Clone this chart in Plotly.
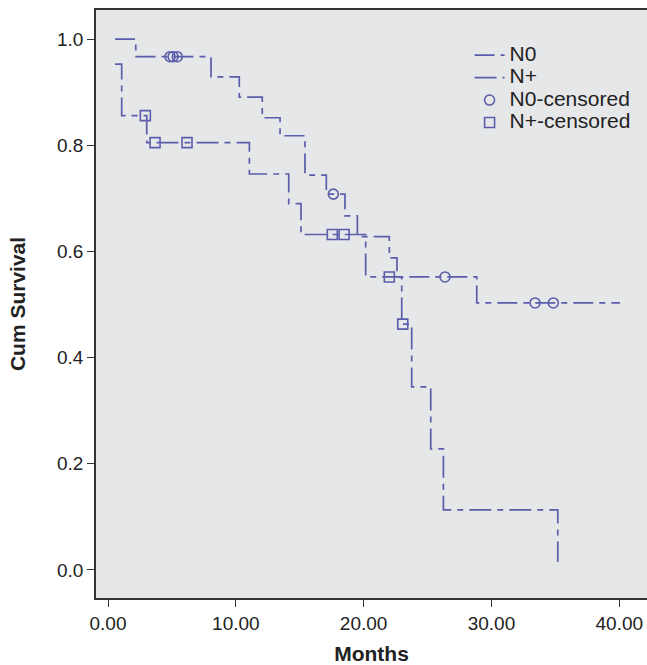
import plotly.graph_objects as go

# --- data ---
n0_time = [0.55, 2.17, 8.06, 10.27, 12.07, 13.46, 15.41, 17.08, 18.54, 19.51, 22.01, 22.61, 28.85, 40.06]
n0_surv = [1.000, 0.967, 0.929, 0.891, 0.852, 0.818, 0.744, 0.708, 0.667, 0.628, 0.588, 0.552, 0.503, 0.503]

np_time = [0.55, 1.07, 3.03, 11.06, 14.14, 15.10, 20.16, 22.98, 23.76, 25.25, 26.24, 35.19]
np_surv = [0.953, 0.856, 0.805, 0.746, 0.690, 0.632, 0.552, 0.463, 0.345, 0.228, 0.113, 0.015]

n0_cens_time = [4.85, 5.09, 5.42, 17.63, 26.37, 33.41, 34.84]
n0_cens_surv = [0.967, 0.967, 0.967, 0.708, 0.552, 0.503, 0.503]

np_cens_time = [2.92, 3.68, 6.18, 17.55, 18.47, 22.01, 23.06]
np_cens_surv = [0.856, 0.805, 0.805, 0.632, 0.632, 0.552, 0.463]

series_names = ["N0", "N+", "N0-censored", "N+-censored"]

x_ticks = [0, 10, 20, 30, 40]
y_ticks = [0.0, 0.2, 0.4, 0.6, 0.8, 1.0]

COLOR = "#5a5eab"
FONT = "Liberation Sans, Arial, Helvetica, sans-serif"


def legend_label(name):
    return '<span style="font-size:21px">' + name + '</span>'


fig = go.Figure()
fig.add_trace(go.Scatter(x=n0_time, y=n0_surv, mode="lines", name=legend_label(series_names[0]),
                         line=dict(color=COLOR, width=1.7, shape="hv", dash="20px,6px,6px,6px")))
fig.add_trace(go.Scatter(x=np_time, y=np_surv, mode="lines", name=legend_label(series_names[1]),
                         line=dict(color=COLOR, width=1.7, shape="hv", dash="22px,6px,6px,6px")))
fig.add_trace(go.Scatter(x=n0_cens_time, y=n0_cens_surv, mode="markers", name=legend_label(series_names[2]),
                         marker=dict(symbol="circle-open", size=10, color=COLOR, line=dict(width=1.6, color=COLOR))))
fig.add_trace(go.Scatter(x=np_cens_time, y=np_cens_surv, mode="markers", name=legend_label(series_names[3]),
                         marker=dict(symbol="square-open", size=10, color=COLOR, line=dict(width=1.6, color=COLOR))))

fig.update_layout(
    width=647, height=665,
    margin=dict(l=96, r=0, t=10, b=67),
    paper_bgcolor="white",
    plot_bgcolor="#e6e7e9",
    font=dict(family=FONT, size=19, color="#222"),
    showlegend=True,
    legend=dict(x=0.678, y=0.951, xanchor="left", yanchor="top",
                bgcolor="rgba(0,0,0,0)", font=dict(size=15, color="#222"),
                itemwidth=30),
    xaxis=dict(range=[-0.94, 42.17], tickvals=x_ticks, tickformat=".2f",
               showgrid=False, zeroline=False, showline=True, linecolor="#333", linewidth=1.5,
               mirror=True, ticks="outside", ticklen=7, tickcolor="#333",
               title=dict(text="<b>Months</b>", font=dict(size=21), standoff=14)),
    yaxis=dict(range=[-0.053, 1.055], tickvals=y_ticks, tickformat=".1f",
               showgrid=False, zeroline=False, showline=True, linecolor="#333", linewidth=1.5,
               ticks="outside", ticklen=7, tickcolor="#333",
               title=dict(text="<b>Cum Survival</b>", font=dict(size=21), standoff=26)),
)

fig.write_html("out.html")
